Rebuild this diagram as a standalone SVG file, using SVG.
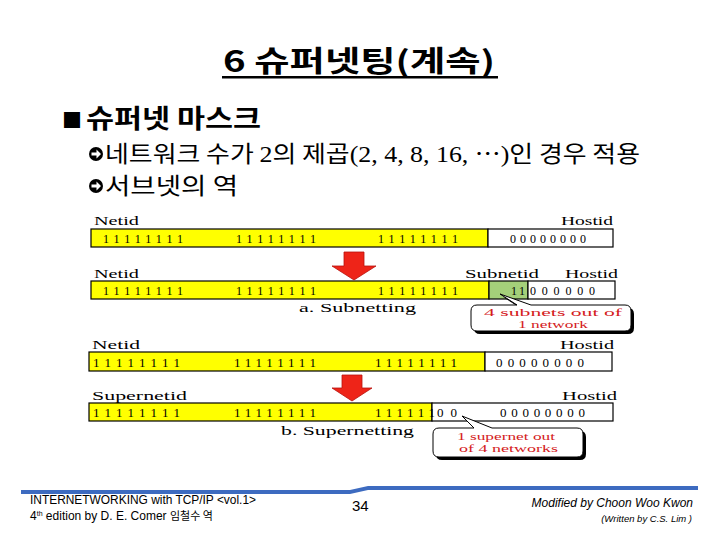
<svg xmlns="http://www.w3.org/2000/svg" width="720" height="540" viewBox="0 0 720 540">
<style>
.kr{font-family:"Noto Sans CJK KR","Noto Sans",sans-serif;fill:#000}
.ser{font-family:"Liberation Serif","Noto Sans CJK KR",serif}
.lbl{font-family:"Liberation Serif",serif;font-size:13px;fill:#000}
.dig{font-family:"Liberation Serif",serif;font-size:12px;fill:#000}
.dig2{font-family:"Liberation Serif",serif;font-size:13px;fill:#000}
.bar{stroke:#000;stroke-width:1.2}
.y{fill:#ffff00}
.w{fill:#fff}
.g{fill:#a4d07a}
.arr{fill:#ee2418;stroke:#b8120c;stroke-width:0.8}
.co{font-family:"Liberation Serif",serif;font-size:11px;fill:#d4201c}
.ft{font-family:"Liberation Sans",Arial,sans-serif;fill:#000}
</style>
<defs>
<g id="bul">
<circle cx="0" cy="0" r="7" fill="#000"/>
<path d="M-4.5,-1.6 H0.5 V-4.5 L5,0 L0.5,4.5 V1.6 H-4.5 Z" fill="#fff"/>
</g>
</defs>
<rect width="720" height="540" fill="#fff"/>

<g id="title">
<text class="kr" x="223" y="72" font-size="29" font-weight="700" textLength="272" lengthAdjust="spacingAndGlyphs">6 슈퍼넷팅(계속)</text>
<rect x="222" y="76" width="276" height="2.5" fill="#000"/>
</g>

<g id="bullets">
<text class="kr" x="62" y="128" font-size="26" font-weight="700"><tspan font-size="20">■</tspan><tspan x="86" textLength="175" lengthAdjust="spacingAndGlyphs">슈퍼넷 마스크</tspan></text>
<use href="#bul" x="96" y="154"/>
<text class="kr" x="105" y="162" font-size="23" textLength="535" lengthAdjust="spacingAndGlyphs">네트워크 수가 <tspan class="ser">2</tspan>의 제곱<tspan class="ser">(2, 4, 8, 16, ⋯)</tspan>인 경우 적용</text>
<use href="#bul" x="96" y="186"/>
<text class="kr" x="105" y="194" font-size="23" textLength="133" lengthAdjust="spacingAndGlyphs">서브넷의 역</text>
</g>

<g id="row1">
<text class="lbl" x="94" y="225" textLength="45" lengthAdjust="spacingAndGlyphs">Netid</text>
<text class="lbl" x="561" y="225" textLength="52" lengthAdjust="spacingAndGlyphs">Hostid</text>
<rect class="bar y" x="91" y="229" width="397" height="18"/>
<rect class="bar w" x="488" y="229" width="125" height="18"/>
<text class="dig" x="103" y="243" textLength="80" lengthAdjust="spacing">11111111</text>
<text class="dig" x="236" y="243" textLength="80" lengthAdjust="spacing">11111111</text>
<text class="dig" x="378" y="243" textLength="80" lengthAdjust="spacing">11111111</text>
<text class="dig" x="510" y="243" textLength="76" lengthAdjust="spacing">00000000</text>
</g>

<g id="row2">
<text class="lbl" x="94" y="278" textLength="45" lengthAdjust="spacingAndGlyphs">Netid</text>
<text class="lbl" x="465" y="278" textLength="74" lengthAdjust="spacingAndGlyphs">Subnetid</text>
<text class="lbl" x="565" y="278" textLength="53" lengthAdjust="spacingAndGlyphs">Hostid</text>
<rect class="bar y" x="91" y="281" width="398" height="18"/>
<rect class="bar g" x="489" y="281" width="39" height="18"/>
<rect class="bar w" x="528" y="281" width="87" height="18"/>
<text class="dig" x="103" y="295" textLength="80" lengthAdjust="spacing">11111111</text>
<text class="dig" x="236" y="295" textLength="80" lengthAdjust="spacing">11111111</text>
<text class="dig" x="378" y="295" textLength="80" lengthAdjust="spacing">11111111</text>
<text class="dig" x="511" y="295" textLength="14" lengthAdjust="spacing">11</text>
<text class="dig" x="530" y="295" textLength="65" lengthAdjust="spacing">000000</text>
<text class="lbl" x="299" y="312" textLength="117" lengthAdjust="spacingAndGlyphs">a. Subnetting</text>
</g>

<g id="row3">
<text class="lbl" x="92" y="349" textLength="48" lengthAdjust="spacingAndGlyphs">Netid</text>
<text class="lbl" x="560" y="349" textLength="54" lengthAdjust="spacingAndGlyphs">Hostid</text>
<rect class="bar y" x="89" y="352" width="396" height="19"/>
<rect class="bar w" x="485" y="352" width="127" height="19"/>
<text class="dig2" x="93" y="367" textLength="87" lengthAdjust="spacing">11111111</text>
<text class="dig2" x="234" y="367" textLength="82" lengthAdjust="spacing">11111111</text>
<text class="dig2" x="375" y="367" textLength="82" lengthAdjust="spacing">11111111</text>
<text class="dig2" x="496" y="367" textLength="88" lengthAdjust="spacing">00000000</text>
</g>

<g id="row4">
<text class="lbl" x="92" y="400" textLength="95" lengthAdjust="spacingAndGlyphs">Supernetid</text>
<text class="lbl" x="562" y="400" textLength="55" lengthAdjust="spacingAndGlyphs">Hostid</text>
<rect class="bar y" x="89" y="403" width="343" height="18"/>
<rect class="bar w" x="432" y="403" width="181" height="18"/>
<text class="dig2" x="93" y="417" textLength="87" lengthAdjust="spacing">11111111</text>
<text class="dig2" x="234" y="417" textLength="82" lengthAdjust="spacing">11111111</text>
<text class="dig2" x="375" y="417" textLength="60" lengthAdjust="spacing">111111</text>
<text class="dig2" x="437" y="417" textLength="20" lengthAdjust="spacing">00</text>
<text class="dig2" x="500" y="417" textLength="85" lengthAdjust="spacing">00000000</text>
<text class="lbl" x="281" y="435" textLength="133" lengthAdjust="spacingAndGlyphs">b. Supernetting</text>
</g>

<g id="arrow1">
<path class="arr" d="M344,252 H364 V266 H376 L354,280 L332,266 H344 Z"/>
</g>
<g id="arrow2">
<path class="arr" d="M342,375 H362 V388 H372 L352,401 L332,388 H342 Z"/>
</g>

<g id="callout1">
<path d="M480,308 H520 L503,297 L534,308 H628 Q634,308 634,314 V328 Q634,334 628,334 H480 Q474,334 474,328 V314 Q474,308 480,308 Z" fill="#000"/>
<path d="M477,305 H517 L500,294 L531,305 H625 Q631,305 631,311 V325 Q631,331 625,331 H477 Q471,331 471,325 V311 Q471,305 477,305 Z" fill="#fff" stroke="#000" stroke-width="1"/>
<text class="co" x="484" y="316" textLength="138" lengthAdjust="spacingAndGlyphs">4 subnets out of</text>
<text class="co" x="518" y="327.5" textLength="70" lengthAdjust="spacingAndGlyphs">1 network</text>
</g>

<g id="callout2">
<path d="M442,431 H477 L465,419 L495,431 H580 Q586,431 586,437 V454 Q586,460 580,460 H442 Q436,460 436,454 V437 Q436,431 442,431 Z" fill="#000"/>
<path d="M439,428 H474 L462,416 L492,428 H577 Q583,428 583,434 V451 Q583,457 577,457 H439 Q433,457 433,451 V434 Q433,428 439,428 Z" fill="#fff" stroke="#000" stroke-width="1"/>
<text class="co" x="457" y="440" textLength="98" lengthAdjust="spacingAndGlyphs">1 supernet out</text>
<text class="co" x="459" y="452" textLength="99" lengthAdjust="spacingAndGlyphs">of 4 networks</text>
</g>

<g id="footer">
<polygon points="21,490 350,490 368,486 698,486 698,490 368,490 350,494 21,494" fill="#3d6bc0"/>
<text class="ft" x="30" y="504" font-size="12" textLength="226" lengthAdjust="spacingAndGlyphs">INTERNETWORKING with TCP/IP &lt;vol.1&gt;</text>
<text class="ft" x="30" y="520" font-size="12">4<tspan font-size="7" dy="-4">th</tspan><tspan dy="4"> edition by D. E. Comer </tspan><tspan font-family="Noto Sans CJK KR,sans-serif" font-size="11">임철수 역</tspan></text>
<text class="ft" x="352" y="511" font-size="15">34</text>
<text class="ft" x="693" y="507" font-size="12" font-style="italic" text-anchor="end">Modified by Choon Woo Kwon</text>
<text class="ft" x="692" y="522" font-size="9.5" font-style="italic" text-anchor="end">(Written by C.S. Lim )</text>
</g>
</svg>
